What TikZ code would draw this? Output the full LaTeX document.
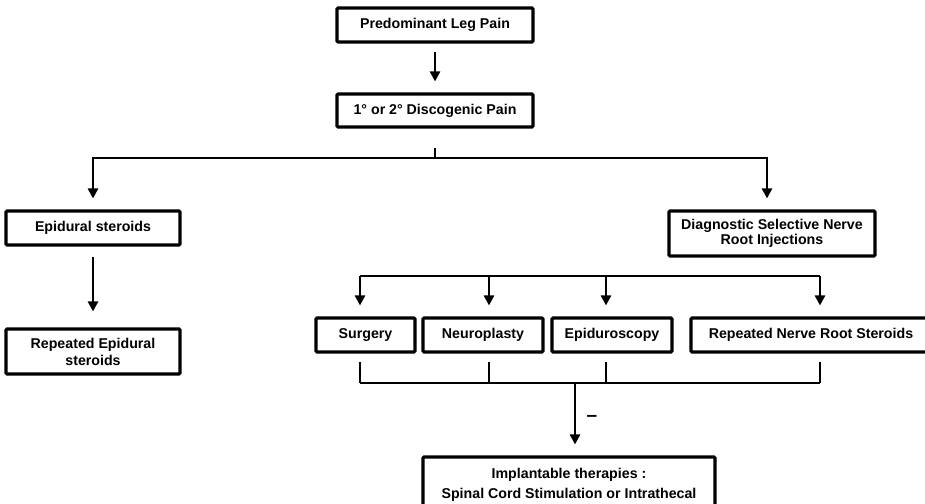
\documentclass[tikz,border=0pt]{standalone}
\usepackage{fontspec}
\setmainfont{Liberation Sans}
\usetikzlibrary{arrows.meta}
\begin{document}
\begin{tikzpicture}[x=1pt,y=-1pt,
  box/.style={draw=black, line width=3.1pt, rounded corners=1pt, fill=white, inner sep=0pt,
    align=center, font=\fontsize{14.2}{15}\selectfont\bfseries},
  ln/.style={draw=black, line width=2.9pt},
  arr/.style={ln, -{Triangle[length=10pt,width=10pt]}}]
\useasboundingbox (0,0) rectangle (925,503);
% nodes
\node[box, minimum width=196pt, minimum height=34pt] (pain) at (435,25) {Predominant Leg Pain};
\node[box, minimum width=196pt, minimum height=33pt] (disco) at (435,110.5) {1° or 2° Discogenic Pain};
\node[box, minimum width=174pt, minimum height=34pt] (epi) at (93,228) {Epidural steroids};
\node[box, minimum width=174pt, minimum height=45pt, font=\fontsize{14.2}{17}\selectfont\bfseries] (repepi) at (93,351.5) {Repeated Epidural\\steroids};
\node[box, minimum width=206pt, minimum height=45pt] (diag) at (772,233.5) {Diagnostic Selective Nerve\\Root Injections};
\node[box, minimum width=99pt, minimum height=34pt] (surg) at (365.5,335) {Surgery};
\node[box, minimum width=120pt, minimum height=34pt] (neuro) at (483,335) {Neuroplasty};
\node[box, minimum width=120pt, minimum height=34pt] (episc) at (612,335) {Epiduroscopy};
\node[box, minimum width=240pt, minimum height=34pt] (rnrs) at (811,335) {Repeated Nerve Root Steroids};
\node[box, minimum width=292pt, minimum height=55pt, font=\fontsize{14.2}{20}\selectfont\bfseries] (impl) at (569,484.5) {Implantable therapies :\\Spinal Cord Stimulation or Intrathecal};
\node[font=\fontsize{19}{20}\selectfont\bfseries, inner sep=0pt] (minus) at (592,418) {–};
% junction coordinates
\coordinate (j1) at (435,158);
\coordinate (b1) at (360,276);
\coordinate (b2) at (489,276);
\coordinate (b3) at (606,276);
\coordinate (b4) at (820,276);
\coordinate (c1) at (360,383);
\coordinate (c2) at (489,383);
\coordinate (c3) at (606,383);
\coordinate (c4) at (820,383);
\coordinate (c0) at (575,383);
% connectors
\draw[arr, shorten <=8pt, shorten >=11pt] (pain) -- (disco);
\draw[ln, shorten <=19pt] (disco.south) -- (j1);
\draw[arr, shorten >=11pt] (j1) -| (epi.north);
\draw[arr, shorten >=11pt] (j1) -| ([xshift=-5pt]diag.north);
\draw[arr, shorten <=10pt, shorten >=16pt] (epi) -- (repepi);
\draw[ln] (b1) -- (b4);
\draw[arr, shorten >=11pt] (b1) -- (b1 |- surg.north);
\draw[arr, shorten >=11pt] (b2) -- (b2 |- neuro.north);
\draw[arr, shorten >=11pt] (b3) -- (b3 |- episc.north);
\draw[arr, shorten >=11pt] (b4) -- (b4 |- rnrs.north);
\draw[ln, shorten <=8pt] (c1 |- surg.south) -- (c1);
\draw[ln, shorten <=8pt] (c2 |- neuro.south) -- (c2);
\draw[ln, shorten <=8pt] (c3 |- episc.south) -- (c3);
\draw[ln, shorten <=8pt] (c4 |- rnrs.south) -- (c4);
\draw[ln] (c1) -- (c4);
\draw[arr, shorten >=11pt] (c0) -- (c0 |- impl.north);
\end{tikzpicture}
\end{document}
